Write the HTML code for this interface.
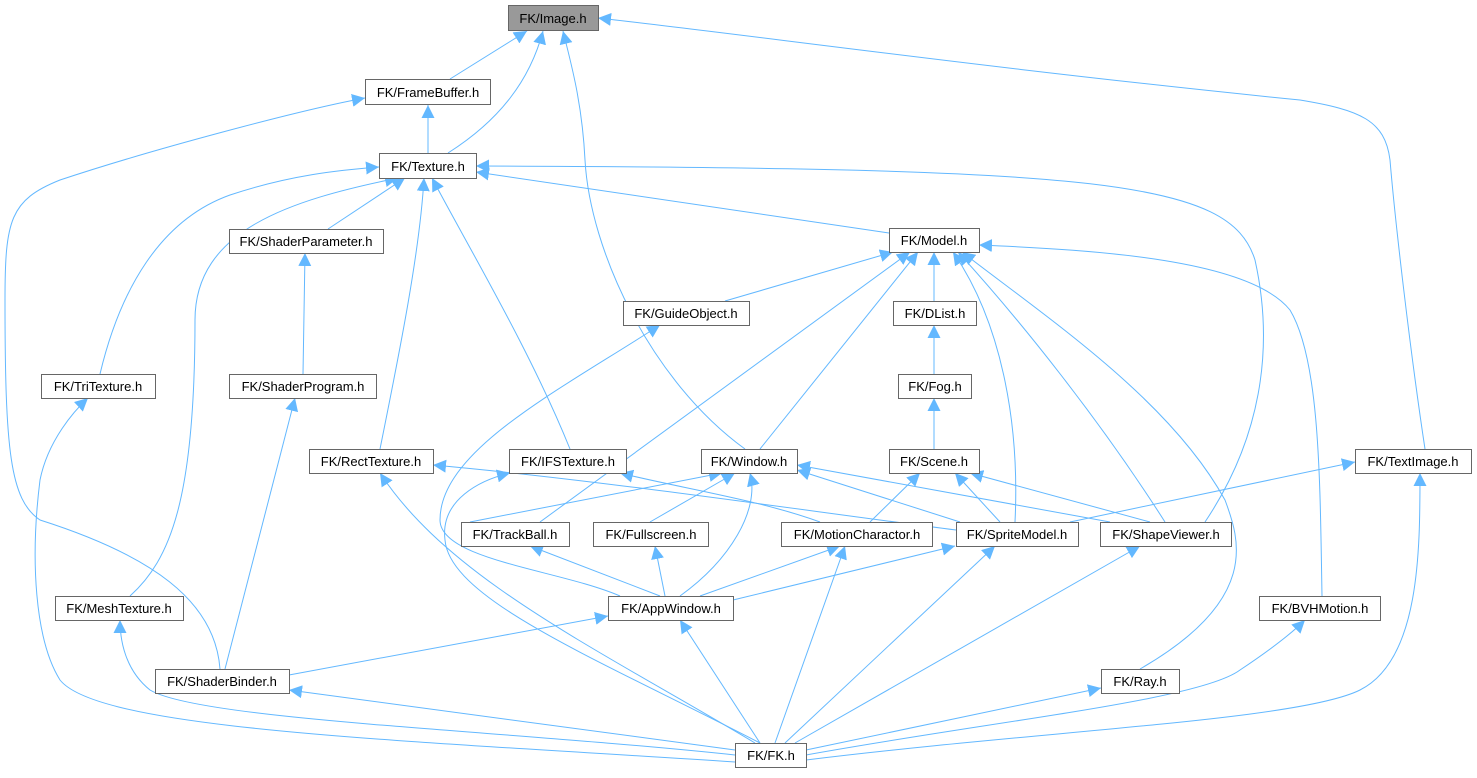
<!DOCTYPE html>
<html><head><meta charset="utf-8"><style>
html,body{margin:0;padding:0;background:#fff;}
svg text{font-family:"Liberation Sans",Arial,sans-serif;font-size:13px;fill:#000;}
</style></head><body>
<svg width="1477" height="773" viewBox="0 0 1477 773" xmlns="http://www.w3.org/2000/svg">
<defs><marker id="a" viewBox="0 0 10 10" refX="10" refY="5" markerWidth="13" markerHeight="13" markerUnits="userSpaceOnUse" orient="auto"><path d="M0,0L10,5L0,10z" fill="#63b8ff"/></marker></defs>
<g fill="none" stroke="#63b8ff" stroke-width="1" marker-end="url(#a)">
<path d="M450,79L527,31"/>
<path d="M448,153C500,120 530,80 543,31"/>
<path d="M745,449C650,380 590,250 585,160C582,100 570,60 563,31"/>
<path d="M1425,449C1410,350 1395,220 1390,160C1385,120 1360,110 1300,100C1000,70 750,35 598,18"/>
<path d="M428,153L428,105"/>
<path d="M220,669C215,600 150,555 40,520C10,500 5,450 5,300C5,220 10,200 60,180C150,150 300,110 365,98"/>
<path d="M328,229L405,178"/>
<path d="M889,233L476,172"/>
<path d="M100,374C120,290 160,220 230,195C290,175 340,170 379,167"/>
<path d="M130,596C170,560 195,500 195,320C195,230 290,200 398,178"/>
<path d="M380,449C400,350 420,250 424,178"/>
<path d="M570,449C530,350 470,250 432,178"/>
<path d="M1205,522C1260,440 1275,350 1255,260C1230,180 1100,168 476,166"/>
<path d="M303,374L305,253"/>
<path d="M225,669L295,398"/>
<path d="M725,301L893,252"/>
<path d="M934,301L934,252"/>
<path d="M540,522L910,252"/>
<path d="M760,449L918,252"/>
<path d="M1015,522C1020,420 1000,320 953,252"/>
<path d="M1165,522C1100,420 1020,320 958,252"/>
<path d="M1140,669C1260,600 1240,540 1225,500C1170,400 1050,320 962,252"/>
<path d="M1322,596C1320,480 1320,360 1290,310C1250,260 1100,250 979,245"/>
<path d="M934,374L934,325"/>
<path d="M934,449L934,398"/>
<path d="M620,596C560,570 440,560 440,520C440,450 560,390 660,325"/>
<path d="M870,522L920,473"/>
<path d="M1000,522L955,473"/>
<path d="M1150,522L970,473"/>
<path d="M735,762C400,740 100,730 60,680C35,640 30,560 40,480C48,440 75,410 88,398"/>
<path d="M755,743C600,650 450,580 380,473"/>
<path d="M956,530C800,510 600,480 433,465"/>
<path d="M760,743C600,660 450,600 445,540C440,500 480,480 510,473"/>
<path d="M820,522C760,500 680,488 620,473"/>
<path d="M470,522L722,473"/>
<path d="M650,522L735,473"/>
<path d="M680,596C730,560 760,510 750,473"/>
<path d="M960,522L797,470"/>
<path d="M1110,522L797,465"/>
<path d="M660,596L530,546"/>
<path d="M665,596L655,546"/>
<path d="M700,596L840,546"/>
<path d="M733,600L955,546"/>
<path d="M775,743L845,546"/>
<path d="M785,743L995,546"/>
<path d="M795,743L1140,546"/>
<path d="M1070,522L1355,462"/>
<path d="M289,675L608,616"/>
<path d="M760,743L680,620"/>
<path d="M735,755C500,730 200,720 150,690C125,670 120,640 120,620"/>
<path d="M735,750L289,690"/>
<path d="M806,750L1101,688"/>
<path d="M806,755C1000,720 1200,700 1240,670C1270,650 1290,635 1305,620"/>
<path d="M806,760C1050,730 1300,720 1360,690C1420,660 1420,550 1420,473"/>
</g>
<g stroke="#666" stroke-width="1" fill="#fff">
<rect x="508.5" y="5.5" width="90" height="25" fill="#999"/>
<rect x="365.5" y="79.5" width="125" height="25"/>
<rect x="379.5" y="153.5" width="97" height="25"/>
<rect x="229.5" y="229.5" width="154" height="24"/>
<rect x="889.5" y="228.5" width="90" height="24"/>
<rect x="623.5" y="301.5" width="126" height="24"/>
<rect x="893.5" y="301.5" width="83" height="24"/>
<rect x="41.5" y="374.5" width="114" height="24"/>
<rect x="229.5" y="374.5" width="147" height="24"/>
<rect x="898.5" y="374.5" width="73" height="24"/>
<rect x="309.5" y="449.5" width="124" height="24"/>
<rect x="509.5" y="449.5" width="117" height="24"/>
<rect x="701.5" y="449.5" width="96" height="24"/>
<rect x="889.5" y="449.5" width="90" height="24"/>
<rect x="1355.5" y="449.5" width="116" height="24"/>
<rect x="461.5" y="522.5" width="108" height="24"/>
<rect x="593.5" y="522.5" width="115" height="24"/>
<rect x="781.5" y="522.5" width="151" height="24"/>
<rect x="956.5" y="522.5" width="122" height="24"/>
<rect x="1100.5" y="522.5" width="131" height="24"/>
<rect x="55.5" y="596.5" width="128" height="24"/>
<rect x="608.5" y="596.5" width="125" height="24"/>
<rect x="1259.5" y="596.5" width="121" height="24"/>
<rect x="155.5" y="669.5" width="134" height="24"/>
<rect x="1101.5" y="669.5" width="78" height="24"/>
<rect x="735.5" y="743.5" width="71" height="24"/>
</g>
<g text-anchor="middle">
<text x="553" y="23">FK/Image.h</text>
<text x="428" y="97">FK/FrameBuffer.h</text>
<text x="428" y="171">FK/Texture.h</text>
<text x="306" y="246">FK/ShaderParameter.h</text>
<text x="934" y="245">FK/Model.h</text>
<text x="686" y="318">FK/GuideObject.h</text>
<text x="935" y="318">FK/DList.h</text>
<text x="98" y="391">FK/TriTexture.h</text>
<text x="303" y="391">FK/ShaderProgram.h</text>
<text x="935" y="391">FK/Fog.h</text>
<text x="371" y="466">FK/RectTexture.h</text>
<text x="568" y="466">FK/IFSTexture.h</text>
<text x="749" y="466">FK/Window.h</text>
<text x="934" y="466">FK/Scene.h</text>
<text x="1413" y="466">FK/TextImage.h</text>
<text x="515" y="539">FK/TrackBall.h</text>
<text x="651" y="539">FK/Fullscreen.h</text>
<text x="857" y="539">FK/MotionCharactor.h</text>
<text x="1017" y="539">FK/SpriteModel.h</text>
<text x="1166" y="539">FK/ShapeViewer.h</text>
<text x="119" y="613">FK/MeshTexture.h</text>
<text x="671" y="613">FK/AppWindow.h</text>
<text x="1320" y="613">FK/BVHMotion.h</text>
<text x="222" y="686">FK/ShaderBinder.h</text>
<text x="1140" y="686">FK/Ray.h</text>
<text x="771" y="760">FK/FK.h</text>
</g>
</svg>
</body></html>
